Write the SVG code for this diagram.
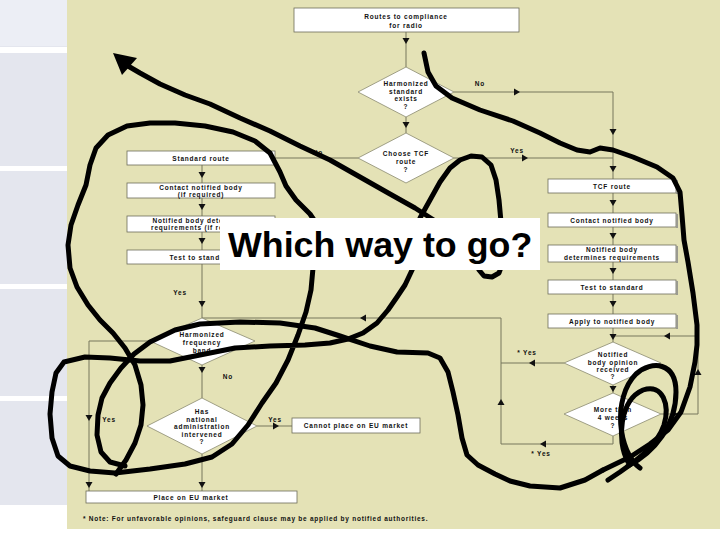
<svg xmlns="http://www.w3.org/2000/svg" width="720" height="540" viewBox="0 0 720 540">
<defs>
<style>
.box{fill:#fff;stroke:#6d6d5a;stroke-width:0.8}
.sh{stroke:#9a9a90;stroke-width:2}
.dia{fill:#fff;stroke:#8a8a70;stroke-width:0.8}
.t{font-family:"Liberation Sans",Arial,sans-serif;font-weight:bold;font-size:6.5px;letter-spacing:0.8px;fill:#111;text-anchor:middle}
.ln{fill:none;stroke:#77775c;stroke-width:1}
.ink{fill:none;stroke:#000;stroke-width:5;stroke-linecap:round;stroke-linejoin:round}
</style>
<path id="ad" d="M-3.5,-3 L3.5,-3 L0,3 Z" fill="#111"/>
<path id="au" d="M-3.5,3 L3.5,3 L0,-3 Z" fill="#111"/>
<path id="ar" d="M-3,-3.5 L-3,3.5 L3,0 Z" fill="#111"/>
<path id="al" d="M3,-3.5 L3,3.5 L-3,0 Z" fill="#111"/>
</defs>

<g id="background">
<rect x="0" y="0" width="720" height="540" fill="#ffffff"/>
<rect x="0" y="0" width="67" height="505" fill="#e4e6ee"/>
<rect x="0" y="0" width="67" height="46" fill="#eceef5"/>
<rect x="0" y="47" width="67" height="6" fill="#ffffff"/>
<rect x="0" y="166" width="67" height="5" fill="#ffffff"/>
<rect x="0" y="284" width="67" height="5" fill="#ffffff"/>
<rect x="0" y="396" width="67" height="5" fill="#ffffff"/>
<rect x="67" y="0" width="653" height="529" fill="#e4e2b6"/>
</g>

<g id="connectors">
<path class="ln" d="M406,32 V67 M406,117 V133"/>
<path class="ln" d="M454,92 H613 V179"/>
<path class="ln" d="M454,158 H613"/>
<path class="ln" d="M358,158 H275"/>
<path class="ln" d="M613,193 V213 M613,227 V245 M613,262 V280 M613,294 V314 M613,328 V342 M613,385 V393"/>
<path class="ln" d="M564,363 H501"/>
<path class="ln" d="M661,414 H698 V336 H613"/>
<path class="ln" d="M613,436 V444 H501 V318 H202"/>
<path class="ln" d="M202,165 V183 M202,198 V216 M202,232 V250 M202,264 V318"/>
<path class="ln" d="M202,365 V398 M202,454 V491"/>
<path class="ln" d="M150,341 H89 V491"/>
<path class="ln" d="M257,426 H292"/>
<use href="#ad" x="406" y="41"/>
<use href="#ad" x="406" y="125"/>
<use href="#ar" x="517" y="92"/>
<use href="#ar" x="525" y="158"/>
<use href="#ad" x="613" y="132"/>
<use href="#ad" x="613" y="169"/>
<use href="#ad" x="613" y="203"/>
<use href="#ad" x="613" y="236"/>
<use href="#ad" x="613" y="271"/>
<use href="#ad" x="613" y="304"/>
<use href="#ad" x="613" y="337"/>
<use href="#ad" x="613" y="389"/>
<use href="#al" x="532" y="363"/>
<use href="#ar" x="675" y="414"/>
<use href="#au" x="698" y="372"/>
<use href="#al" x="667" y="336"/>
<use href="#al" x="543" y="444"/>
<use href="#au" x="501" y="402"/>
<use href="#al" x="363" y="318"/>
<use href="#ad" x="202" y="175"/>
<use href="#ad" x="202" y="207"/>
<use href="#ad" x="202" y="241"/>
<use href="#ad" x="202" y="304"/>
<use href="#ad" x="202" y="370"/>
<use href="#ad" x="202" y="485"/>
<use href="#ad" x="89" y="418"/>
<use href="#ad" x="89" y="485"/>
<use href="#ar" x="276" y="426"/>
</g>

<g id="labels">
<text class="t" x="480" y="86">No</text>
<text class="t" x="318" y="155">No</text>
<text class="t" x="517" y="153">Yes</text>
<text class="t" x="180" y="295">Yes</text>
<text class="t" x="228" y="379">No</text>
<text class="t" x="109" y="422">Yes</text>
<text class="t" x="275" y="422">Yes</text>
<text class="t" x="527" y="355">* Yes</text>
<text class="t" x="541" y="456">* Yes</text>
</g>

<g id="n-routes">
<rect class="box" x="294" y="8" width="225" height="24"/>
<text class="t" x="406" y="19">Routes to compliance</text>
<text class="t" x="406" y="28">for radio</text>
</g>
<g id="n-harm-std">
<path class="dia" d="M406,67 L454,92 L406,117 L358,92 Z"/>
<text class="t" x="406" y="86">Harmonized</text>
<text class="t" x="406" y="93.5">standard</text>
<text class="t" x="406" y="101">exists</text>
<text class="t" x="406" y="109">?</text>
</g>
<g id="n-choose-tcf">
<path class="dia" d="M406,133 L454,158 L406,183 L358,158 Z"/>
<text class="t" x="406" y="156">Choose TCF</text>
<text class="t" x="406" y="164">route</text>
<text class="t" x="406" y="171.5">?</text>
</g>
<g id="n-std-route">
<rect class="box" x="127" y="151" width="148" height="14"/>
<text class="t" x="201" y="160.5">Standard route</text>
</g>
<g id="n-contact-l">
<rect class="box" x="127" y="183" width="148" height="15"/>
<text class="t" x="201" y="189.5">Contact notified body</text>
<text class="t" x="201" y="196.5">(if required)</text>
</g>
<g id="n-nbdet-l">
<rect class="box" x="127" y="216" width="148" height="16"/>
<text class="t" x="201" y="222.5">Notified body determines</text>
<text class="t" x="201" y="230">requirements (if required)</text>
</g>
<g id="n-test-l">
<rect class="box" x="127" y="250" width="148" height="14"/>
<text class="t" x="201" y="259.5">Test to standard</text>
</g>
<g id="n-tcf">
<rect class="box" x="548" y="179" width="128" height="14"/>
<line class="sh" x1="677" y1="180" x2="677" y2="194"/>
<text class="t" x="612" y="188.5">TCF route</text>
</g>
<g id="n-contact-r">
<rect class="box" x="548" y="213" width="128" height="14"/>
<line class="sh" x1="677" y1="214" x2="677" y2="228"/>
<text class="t" x="612" y="222.5">Contact notified body</text>
</g>
<g id="n-nbdet-r">
<rect class="box" x="548" y="245" width="128" height="17"/>
<line class="sh" x1="677" y1="246" x2="677" y2="263"/>
<text class="t" x="612" y="252">Notified body</text>
<text class="t" x="612" y="259.5">determines requirements</text>
</g>
<g id="n-test-r">
<rect class="box" x="548" y="280" width="128" height="14"/>
<line class="sh" x1="677" y1="281" x2="677" y2="295"/>
<text class="t" x="612" y="289.5">Test to standard</text>
</g>
<g id="n-apply">
<rect class="box" x="548" y="314" width="128" height="14"/>
<line class="sh" x1="677" y1="315" x2="677" y2="329"/>
<text class="t" x="612" y="323.5">Apply to notified body</text>
</g>
<g id="n-opinion">
<path class="dia" d="M613,342 L661,363 L613,385 L564,363 Z"/>
<text class="t" x="613" y="357">Notified</text>
<text class="t" x="613" y="364.5">body opinion</text>
<text class="t" x="613" y="371.5">received</text>
<text class="t" x="613" y="379">?</text>
</g>
<g id="n-4weeks">
<path class="dia" d="M613,393 L661,414 L613,436 L564,414 Z"/>
<text class="t" x="613" y="412">More than</text>
<text class="t" x="613" y="420">4 weeks</text>
<text class="t" x="613" y="427.5">?</text>
</g>
<g id="n-freq">
<path class="dia" d="M202,318 L255,341 L202,365 L150,341 Z"/>
<text class="t" x="202" y="337">Harmonized</text>
<text class="t" x="202" y="345">frequency</text>
<text class="t" x="202" y="352.5">band</text>
</g>
<g id="n-national">
<path class="dia" d="M202,398 L257,426 L202,454 L147,426 Z"/>
<text class="t" x="202" y="414">Has</text>
<text class="t" x="202" y="421.5">national</text>
<text class="t" x="202" y="429">administration</text>
<text class="t" x="202" y="436.5">intervened</text>
<text class="t" x="202" y="444">?</text>
</g>
<g id="n-cannot">
<rect class="box" x="292" y="418" width="128" height="15"/>
<text class="t" x="356" y="428">Cannot place on EU market</text>
</g>
<g id="n-place">
<rect class="box" x="86" y="491" width="211" height="12"/>
<text class="t" x="191" y="499.5">Place on EU market</text>
</g>
<g id="footnote">
<text class="t" x="83" y="521" style="text-anchor:start;letter-spacing:0.75px">* Note: For unfavorable opinions, safeguard clause may be applied by notified authorities.</text>
</g>

<g id="scribbles">
<path class="ink" d="M440,224 L415,208 390,194 360,177 330,160 300,146 270,131 240,118 210,104 185,95 160,84 140,73 128,66"/>
<polygon points="113,53 137,58 122,75" fill="#000"/>
<path class="ink" d="M318,226 L310,214 296,200 286,186 280,172 270,153 255,141 233,132 205,126 175,123 150,123 127,126 108,135 96,148 90,165 86,185 78,205 71,225 68,245 70,268 77,287 88,305 100,320 113,333 125,348 135,365 141,385 143,405 141,425 135,443 126,460 116,474"/>
<path class="ink" d="M313,268 L311,290 306,312 298,335 288,360 276,383 262,403 248,425 232,444 212,457 185,464 150,469 115,473 90,471 70,466 58,456 52,438 50,414 52,392 56,373 64,362 85,357 110,358 140,361 170,361 200,355 235,348 270,346 305,345 330,343 348,339 363,333 377,323 388,310 397,297 405,285 413,268 420,218 430,200 440,182 450,168 460,160 471,156 482,157 491,165 496,180 499,200 501,222 503,262 499,273 492,277 484,276 479,270"/>
<path class="ink" d="M125,466 L110,462 101,452 97,435 98,415 102,398 110,383 121,368 134,354 150,342 175,330 200,324 240,322 280,323 315,328 340,336 370,346 397,352 428,353 440,358 448,372 453,392 458,415 462,438 467,455 478,465 495,474 510,481 530,486 560,488 585,480 603,470"/>
<path class="ink" d="M424,53 L428,72 436,86 452,98 480,110 513,121 540,133 560,143 577,150 590,152 600,148 613,150 633,157 657,167 673,178 680,192 682,215 684,240 688,262 693,293 697,325 697,345 695,362 690,387 681,412 668,430 650,444 630,457 603,470"/>
<path class="ink" d="M640,468 C618,452 612,398 636,374 C652,360 676,362 676,392 C676,425 655,452 628,466"/>
<path class="ink" d="M628,462 C616,440 620,400 643,390 C663,383 670,405 664,425 C657,445 640,458 620,472 L608,480"/>
</g>

<g id="title-box">
<rect x="220" y="218" width="320" height="52" fill="#ffffff"/>
<text x="228" y="257" font-family="'Liberation Sans', Arial, sans-serif" font-weight="bold" font-size="35.8" fill="#000">Which way to go?</text>
</g>
</svg>
